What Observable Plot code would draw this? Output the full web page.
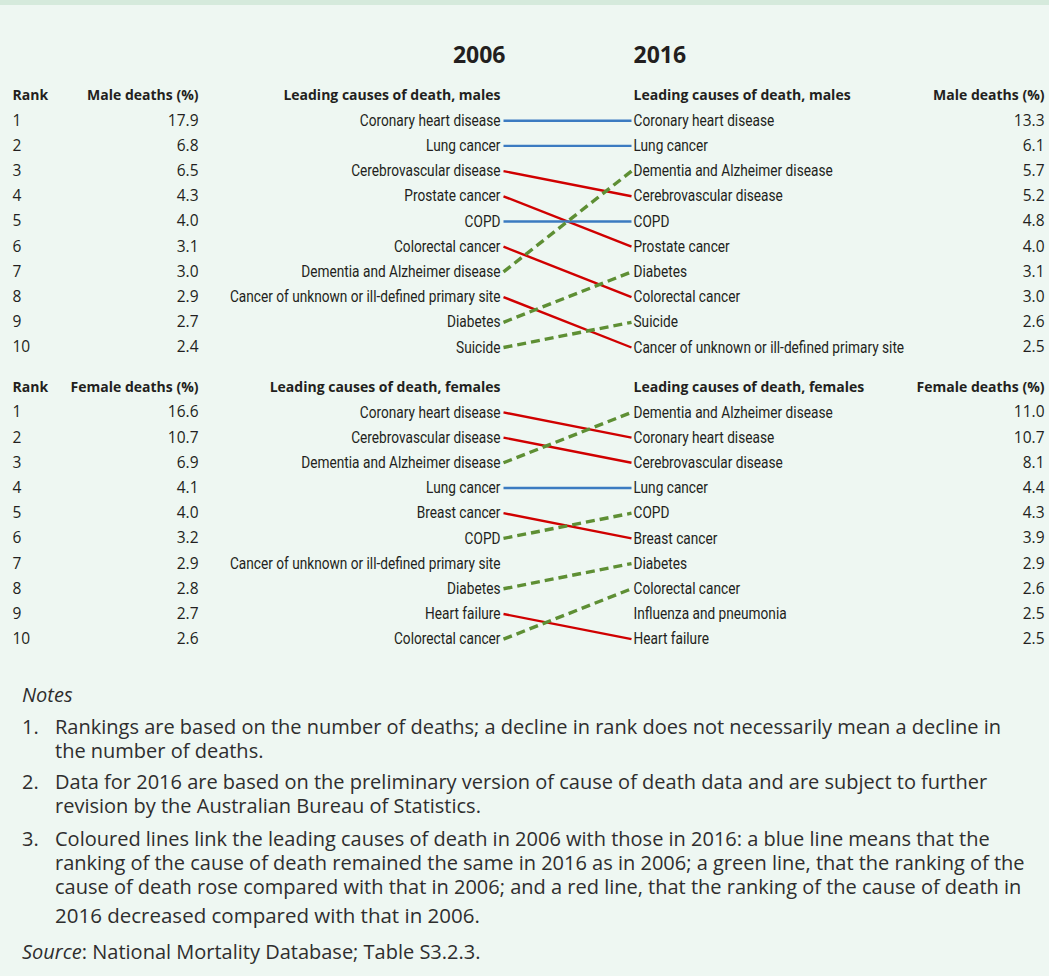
<!DOCTYPE html>
<html>
<head>
<meta charset="utf-8">
<script src="https://cdn.jsdelivr.net/npm/d3@7"></script>
<script src="https://cdn.jsdelivr.net/npm/@observablehq/plot@0.6"></script>
<style>
  html, body { margin: 0; padding: 0; background: #eef7f2; }
  body { width: 1049px; height: 976px; overflow: hidden; font-family: "Open Sans", sans-serif; color: #231f20; }
  .band { height: 5px; background: #d5eadc; }
  #chart svg { display: block; }
  .notes { padding-left: 22px; font-size: 20px; line-height: 24px; color: #2e2e2e; }
  .notes .title { margin-top: 23px; font-style: italic; }
  .notes .item { display: flex; margin-top: 7px; }
  .notes .item.first { margin-top: 8px; }
  .notes .item.third { margin-top: 9px; }
  .notes .num { width: 33px; flex: none; }
  .notes .txt { white-space: nowrap; }
  .notes .last { display: inline-block; padding-top: 4px; font-size: 20.5px; }
  .notes .src { margin-top: 12px; }
</style>
</head>
<body>
<div class="band"></div>
<div id="chart"></div>
<div class="notes">
  <div class="title">Notes</div>
  <div class="item first"><div class="num">1.</div><div class="txt">Rankings are based on the number of deaths; a decline in rank does not necessarily mean a decline in<br>the number of deaths.</div></div>
  <div class="item"><div class="num">2.</div><div class="txt">Data for 2016 are based on the preliminary version of cause of death data and are subject to further<br>revision by the Australian Bureau of Statistics.</div></div>
  <div class="item third"><div class="num">3.</div><div class="txt">Coloured lines link the leading causes of death in 2006 with those in 2016: a blue line means that the<br>ranking of the cause of death remained the same in 2016 as in 2006; a green line, that the ranking of the<br>cause of death rose compared with that in 2006; and a red line, that the ranking of the cause of death in<br><span class="last">2016 decreased compared with that in 2006.</span></div></div>
  <div class="src"><i>Source</i>: National Mortality Database; Table S3.2.3.</div>
</div>
<script>
// ---------------- DATA ----------------
const years = ["2006", "2016"];
const ranks = [1, 2, 3, 4, 5, 6, 7, 8, 9, 10];

const male2006Causes = ["Coronary heart disease", "Lung cancer", "Cerebrovascular disease", "Prostate cancer", "COPD",
  "Colorectal cancer", "Dementia and Alzheimer disease", "Cancer of unknown or ill-defined primary site", "Diabetes", "Suicide"];
const male2006Pct = ["17.9", "6.8", "6.5", "4.3", "4.0", "3.1", "3.0", "2.9", "2.7", "2.4"];
const male2016Causes = ["Coronary heart disease", "Lung cancer", "Dementia and Alzheimer disease", "Cerebrovascular disease", "COPD",
  "Prostate cancer", "Diabetes", "Colorectal cancer", "Suicide", "Cancer of unknown or ill-defined primary site"];
const male2016Pct = ["13.3", "6.1", "5.7", "5.2", "4.8", "4.0", "3.1", "3.0", "2.6", "2.5"];

const female2006Causes = ["Coronary heart disease", "Cerebrovascular disease", "Dementia and Alzheimer disease", "Lung cancer", "Breast cancer",
  "COPD", "Cancer of unknown or ill-defined primary site", "Diabetes", "Heart failure", "Colorectal cancer"];
const female2006Pct = ["16.6", "10.7", "6.9", "4.1", "4.0", "3.2", "2.9", "2.8", "2.7", "2.6"];
const female2016Causes = ["Dementia and Alzheimer disease", "Coronary heart disease", "Cerebrovascular disease", "Lung cancer", "COPD",
  "Breast cancer", "Diabetes", "Colorectal cancer", "Influenza and pneumonia", "Heart failure"];
const female2016Pct = ["11.0", "10.7", "8.1", "4.4", "4.3", "3.9", "2.9", "2.6", "2.5", "2.5"];

const sectionHeaders = [
  {pct: "Male deaths (%)", causes: "Leading causes of death, males"},
  {pct: "Female deaths (%)", causes: "Leading causes of death, females"}
];

// ---------------- LAYOUT (styles / positions) ----------------
const W = 1049, H = 655;
const ROW0 = 90, ROWH = 25.2;           // pixel of male header row, row height
const femaleOffset = 11.575;             // row position of the female header
const yearRow = -1.6;
const COL = {rank: 12, pctL: 198, causeL: 500, linkL: 503, linkR: 631, causeR: 633, pctR: 1044, year06: 505, year16: 633};
const colors = {same: "#3b7bc1", up: "#5e8f34", down: "#d00000"};
const ink = "#231f20";
const causeFont = "Roboto, 'Open Sans', sans-serif";
const causeSize = 16, causeSqueeze = 0.855;
const numSize = 15.5, headSize = 14, yearSize = 23;

// ---------------- BUILD TABLES ----------------
const sections = [
  {off: 0, h: sectionHeaders[0], c06: male2006Causes, p06: male2006Pct, c16: male2016Causes, p16: male2016Pct},
  {off: femaleOffset, h: sectionHeaders[1], c06: female2006Causes, p06: female2006Pct, c16: female2016Causes, p16: female2016Pct}
];
const headers = sections.map(s => ({row: s.off, pct: s.h.pct, causes: s.h.causes}));
const rows = sections.flatMap(s => ranks.map((r, i) => ({
  row: s.off + r, rank: String(r), c06: s.c06[i], p06: s.p06[i], c16: s.c16[i], p16: s.p16[i]
})));
const links = sections.flatMap(s => s.c06.map((c, i) => {
  const j = s.c16.indexOf(c);
  if (j < 0) return null;
  const r1 = ranks[i], r2 = ranks[j];
  return {y1: s.off + r1, y2: s.off + r2, kind: r2 === r1 ? "same" : (r2 < r1 ? "up" : "down")};
}).filter(d => d));

const yTop = -ROW0 / ROWH, yBot = (H - ROW0) / ROWH;

const chart = Plot.plot({
  width: W, height: H,
  marginTop: 0, marginBottom: 0, marginLeft: 0, marginRight: 0,
  x: {domain: [0, W], range: [0, W], axis: null},
  y: {domain: [yTop, yBot], range: [0, H], axis: null},
  style: {background: "transparent", fontFamily: "'Open Sans', sans-serif", color: ink, overflow: "visible"},
  marks: [
    // year labels
    Plot.text([years[0]], {x: () => COL.year06, y: () => yearRow, text: d => d, textAnchor: "end", fontSize: yearSize, fontWeight: "bold", fill: ink}),
    Plot.text([years[1]], {x: () => COL.year16, y: () => yearRow, text: d => d, textAnchor: "start", fontSize: yearSize, fontWeight: "bold", fill: ink}),
    // section headers
    Plot.text(headers, {x: () => COL.rank, y: "row", text: () => "Rank", textAnchor: "start", fontSize: headSize, fontWeight: "bold", fill: ink}),
    Plot.text(headers, {x: () => COL.pctL, y: "row", text: "pct", textAnchor: "end", fontSize: headSize, fontWeight: "bold", fill: ink}),
    Plot.text(headers, {x: () => COL.causeL, y: "row", text: "causes", textAnchor: "end", fontSize: headSize, fontWeight: "bold", fill: ink}),
    Plot.text(headers, {x: () => COL.causeR, y: "row", text: "causes", textAnchor: "start", fontSize: headSize, fontWeight: "bold", fill: ink}),
    Plot.text(headers, {x: () => COL.pctR, y: "row", text: "pct", textAnchor: "end", fontSize: headSize, fontWeight: "bold", fill: ink}),
    // links
    Plot.link(links.filter(d => d.kind !== "up"), {x1: () => COL.linkL, x2: () => COL.linkR, y1: "y1", y2: "y2",
      stroke: d => colors[d.kind], strokeWidth: 2.4}),
    Plot.link(links.filter(d => d.kind === "up"), {x1: () => COL.linkL, x2: () => COL.linkR, y1: "y1", y2: "y2",
      stroke: d => colors[d.kind], strokeWidth: 3.4, strokeDasharray: "9,5"}),
    // rows
    Plot.text(rows, {x: () => COL.rank, y: "row", text: "rank", textAnchor: "start", fontSize: numSize, fill: ink}),
    Plot.text(rows, {x: () => COL.pctL, y: "row", text: "p06", textAnchor: "end", fontSize: numSize, fill: ink}),
    Plot.text(rows, {x: () => COL.causeL, y: "row", text: "c06", textAnchor: "end", fontSize: causeSize, fontFamily: causeFont, fill: ink}),
    Plot.text(rows, {x: () => COL.causeR, y: "row", text: "c16", textAnchor: "start", fontSize: causeSize, fontFamily: causeFont, fill: ink}),
    Plot.text(rows, {x: () => COL.pctR, y: "row", text: "p16", textAnchor: "end", fontSize: numSize, fill: ink})
  ]
});

// narrow (condensed) look for the cause labels, anchored at each label's own position
const causeNames = new Set([...male2006Causes, ...male2016Causes, ...female2006Causes, ...female2016Causes]);
chart.querySelectorAll("text").forEach(t => {
  if (!causeNames.has(t.textContent)) return;
  const tr = t.getAttribute("transform");
  if (tr) {
    t.setAttribute("transform", `${tr} scale(${causeSqueeze},1)`);
  } else {
    const x = parseFloat(t.getAttribute("x")) || 0;
    t.removeAttribute("x");
    t.setAttribute("transform", `translate(${x},0) scale(${causeSqueeze},1)`);
  }
});
document.getElementById("chart").appendChild(chart);
</script>
</body>
</html>
